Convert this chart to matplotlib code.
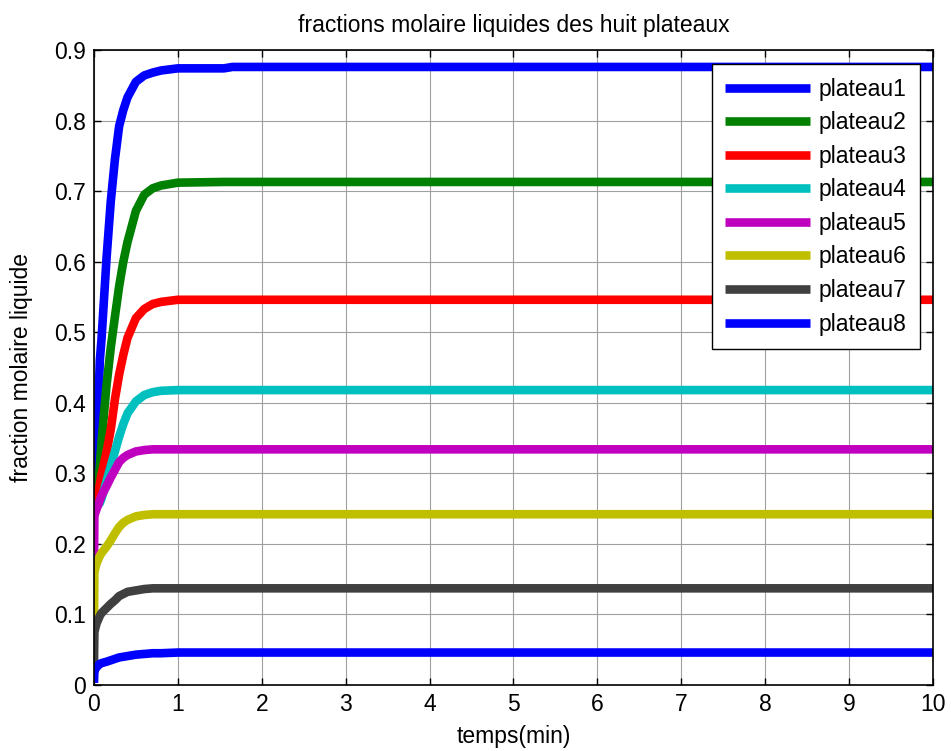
import numpy as np
import matplotlib.pyplot as plt

plt.rcParams['font.family'] = ['Liberation Sans', 'DejaVu Sans']

# time samples (min)
t = [0, 0.005, 0.03, 0.07, 0.09, 0.15, 0.2, 0.25, 0.3, 0.35, 0.4, 0.5, 0.6, 0.7, 0.8, 1.0, 1.55, 1.65, 10]

plateau1 = [0.25, 0.26, 0.32, 0.46, 0.49, 0.605, 0.685, 0.745, 0.792, 0.815, 0.833, 0.855, 0.864, 0.868, 0.871, 0.874, 0.874, 0.876, 0.876]
plateau2 = [0.25, 0.25, 0.262, 0.31, 0.345, 0.425, 0.478, 0.522, 0.565, 0.60, 0.628, 0.672, 0.695, 0.704, 0.708, 0.712, 0.713, 0.713, 0.713]
plateau3 = [0.25, 0.25, 0.255, 0.285, 0.298, 0.33, 0.362, 0.405, 0.44, 0.468, 0.492, 0.52, 0.533, 0.54, 0.543, 0.546, 0.546, 0.546, 0.546]
plateau4 = [0.25, 0.25, 0.252, 0.258, 0.264, 0.289, 0.31, 0.331, 0.352, 0.37, 0.385, 0.402, 0.411, 0.415, 0.417, 0.418, 0.418, 0.418, 0.418]
plateau5 = [0.168, 0.24, 0.249, 0.262, 0.268, 0.282, 0.294, 0.305, 0.316, 0.322, 0.326, 0.331, 0.333, 0.334, 0.334, 0.334, 0.334, 0.334, 0.334]
plateau6 = [0.092, 0.16, 0.172, 0.183, 0.187, 0.196, 0.205, 0.215, 0.224, 0.23, 0.234, 0.239, 0.241, 0.242, 0.242, 0.242, 0.242, 0.242, 0.242]
plateau7 = [0.028, 0.075, 0.087, 0.098, 0.102, 0.109, 0.115, 0.12, 0.126, 0.129, 0.132, 0.134, 0.136, 0.137, 0.137, 0.137, 0.137, 0.137, 0.137]
plateau8 = [0.003, 0.02, 0.025, 0.03, 0.031, 0.033, 0.035, 0.037, 0.039, 0.04, 0.041, 0.043, 0.044, 0.045, 0.045, 0.046, 0.046, 0.046, 0.046]

series = [plateau1, plateau2, plateau3, plateau4, plateau5, plateau6, plateau7, plateau8]
labels = ['plateau1', 'plateau2', 'plateau3', 'plateau4', 'plateau5', 'plateau6', 'plateau7', 'plateau8']
colors = ['#0000ff', '#008000', '#ff0000', '#00bfbf', '#bf00bf', '#bfbf00', '#404040', '#0000ff']

fig = plt.figure(figsize=(9.51, 7.51), dpi=100)
ax = fig.add_axes([0.0988, 0.0879, 0.8822, 0.8455])

for y, lab, c in zip(series, labels, colors):
    ax.plot(t, y, color=c, lw=6.2, label=lab, solid_capstyle='butt', solid_joinstyle='round')

ax.set_xlim(0, 10)
ax.set_ylim(0, 0.9)
ax.set_xticks(np.arange(0, 11, 1))
ax.set_yticks(np.arange(0, 0.91, 0.1))
ax.set_yticklabels(['0', '0.1', '0.2', '0.3', '0.4', '0.5', '0.6', '0.7', '0.8', '0.9'])
ax.grid(True, color='#a0a0a0', lw=0.8)
ax.set_axisbelow(True)
ax.tick_params(direction='in', top=True, right=True, labelsize=16.5, length=5, width=1, pad=6)
for s in ax.spines.values():
    s.set_linewidth(1.2)

ax.set_title('fractions molaire liquides des huit plateaux', fontsize=16.5, pad=13)
ax.set_xlabel('temps(min)', fontsize=16.5, labelpad=6)
ax.set_ylabel('fraction molaire liquide', fontsize=16.5, labelpad=15)

leg = ax.legend(loc='upper right', bbox_to_anchor=(0.9845, 0.978), fontsize=16.5, fancybox=False,
                edgecolor='black', framealpha=1, handlelength=3.7, labelspacing=0.46,
                borderpad=0.6, handletextpad=0.35, borderaxespad=0)
leg.get_frame().set_linewidth(1.0)

plt.savefig('out.png', dpi=100)
